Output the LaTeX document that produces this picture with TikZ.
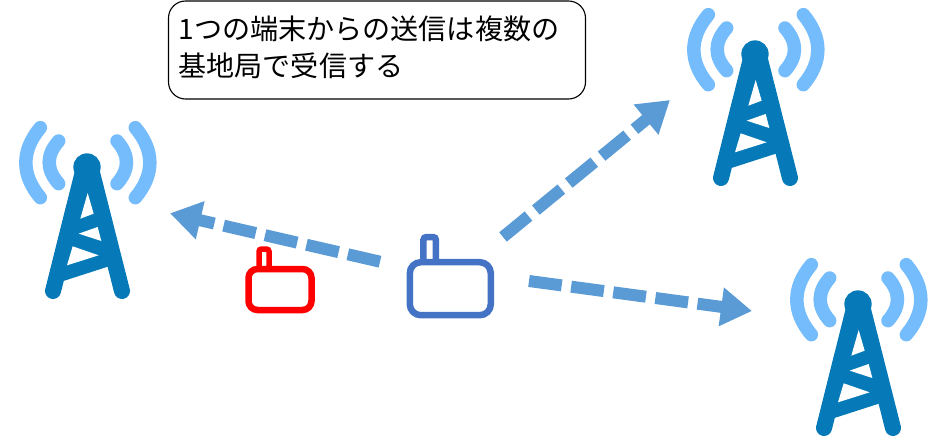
\documentclass[tikz,border=0pt]{standalone}
\usepackage{fontspec}
\newfontfamily\cjk{Noto Sans CJK JP}
\usetikzlibrary{arrows.meta}
\definecolor{arrowblue}{HTML}{5B9BD5}
\definecolor{devblue}{HTML}{4472C4}
\definecolor{towerblue}{HTML}{067AB8}
\definecolor{wave}{HTML}{74BCFB}
\tikzset{
  signal/.style={draw=arrowblue,line width=12pt,dash pattern=on 33pt off 9.5pt,
    -{Triangle[length=31pt,width=37pt,fill=arrowblue]}},
  devline/.style={line width=6.5pt,fill=white},
  waveline/.style={draw=wave,line width=13.5pt,line cap=round},
  towerleg/.style={draw=towerblue,line width=16pt,line cap=round},
  callout/.style={inner sep=0pt,align=left,text width=397pt,
    font=\cjk\fontsize{28.1}{37}\selectfont},
  tower/.pic={
    \begin{scope}[x=0.3333pt,y=-0.3333pt,shift={(-260,-170)}]
      \draw[waveline] (120,52) .. controls (62,121) and (62,193) .. (120,262);
      \draw[waveline] (175,92) .. controls (137,135) and (137,177) .. (175,220);
      \draw[waveline] (405,52) .. controls (463,121) and (463,193) .. (405,262);
      \draw[waveline] (350,92) .. controls (388,135) and (388,177) .. (350,220);
      \draw[towerleg] (250,175) -- (158,542);
      \draw[towerleg] (272,175) -- (365,542);
      \fill[towerblue] (240,180) -- (282,180) -- (335,465) -- (180,515) -- cycle;
      \fill[towerblue] (260,170) circle (41);
      \fill[white] (262,248) -- (240,325) -- (280,310) -- cycle;
      \fill[white] (235,370) -- (292,350) -- (303,392) -- cycle;
      \fill[white] (217,408) -- (295,435) -- (200,465) -- cycle;
    \end{scope}
  }
}
\begin{document}
\begin{tikzpicture}[x=1pt,y=-1pt]
\useasboundingbox (0,0) rectangle (930,436);
% callout
\node[draw=black,line width=1.1pt,rounded corners=17pt,minimum width=417pt,minimum height=98pt] (note) at (377,50) {};
\node[callout] (notetext) at (377,47.5) {1つの端末からの送信は複数の\\基地局で受信する};
% towers
\pic at (87,167) {tower};
\pic at (755,54) {tower};
\pic at (858,304) {tower};
% devices
\node[draw=red,devline,rounded corners=2.5pt,minimum width=10pt,minimum height=20pt,inner sep=0pt,line width=5.5pt] (redant) at (264,259) {};
\node[draw=red,devline,rounded corners=9pt,minimum width=63pt,minimum height=41pt,inner sep=0pt] (reddev) at (280,289.5) {};
\node[draw=devblue,devline,rounded corners=3pt,minimum width=12.5pt,minimum height=26pt,inner sep=0pt] (blueant) at (429.7,250) {};
\node[draw=devblue,devline,rounded corners=11pt,minimum width=81pt,minimum height=53pt,inner sep=0pt] (bluedev) at (450.3,288.7) {};
% signals
\coordinate (s1) at (380,261.7);
\coordinate (t1) at (170,213.3);
\coordinate (s2) at (503,237);
\coordinate (t2) at (670,100);
\coordinate (s3) at (529,281);
\coordinate (t3) at (752,311);
\draw[signal] (s1) -- (t1);
\draw[signal] (s2) -- (t2);
\draw[signal] (s3) -- (t3);
\end{tikzpicture}
\end{document}
